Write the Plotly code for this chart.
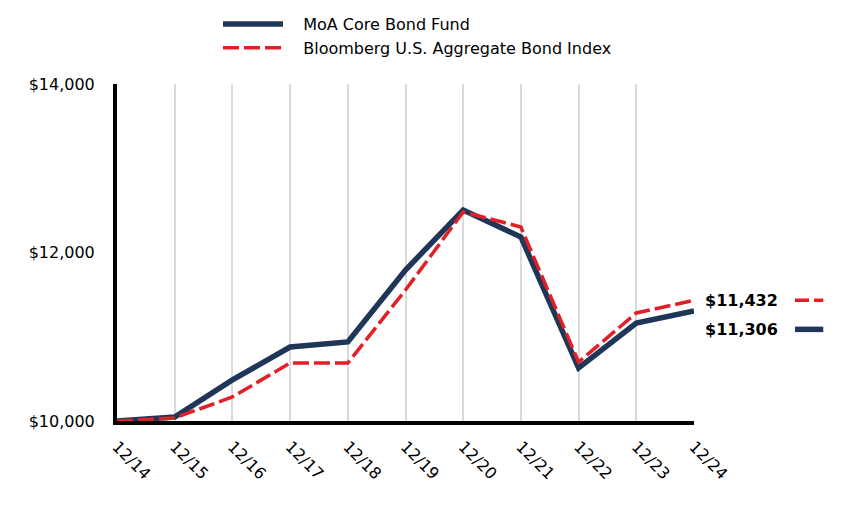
import plotly.graph_objects as go

labels = ["12/14", "12/15", "12/16", "12/17", "12/18", "12/19", "12/20", "12/21", "12/22", "12/23", "12/24"]
fund = [10000, 10047, 10487, 10878, 10938, 11792, 12504, 12184, 10629, 11163, 11306]
index = [10000, 10036, 10285, 10688, 10688, 11555, 12481, 12303, 10700, 11282, 11432]
fund_name = "MoA Core Bond Fund"
index_name = "Bloomberg U.S. Aggregate Bond Index"
yticks = [10000, 12000, 14000]

NAVY = "#1f3659"
RED = "#e21f26"
FONT = "DejaVu Sans, Verdana, sans-serif"
PAD = "\u00a0\u00a0\u00a0"

xs = list(range(len(labels)))
fig = go.Figure()
fig.add_trace(go.Scatter(x=xs, y=fund, mode="lines", name=PAD + fund_name,
                         line=dict(color=NAVY, width=5.5), cliponaxis=False))
fig.add_trace(go.Scatter(x=xs, y=index, mode="lines", name=PAD + index_name,
                         line=dict(color=RED, width=3.5, dash="16px,5px"), cliponaxis=False))

fig.add_annotation(x=1.015, xref="paper", y=index[-1], yref="y", text="<b>$" + f"{index[-1]:,}" + "</b>",
                   showarrow=False, xanchor="left", yanchor="middle",
                   font=dict(family=FONT, size=16, color="black"))
fig.add_annotation(x=1.015, xref="paper", y=index[-1], yref="y", yshift=-29,
                   text="<b>$" + f"{fund[-1]:,}" + "</b>",
                   showarrow=False, xanchor="left", yanchor="middle",
                   font=dict(family=FONT, size=16, color="black"))

# short line keys next to end labels
fig.add_shape(type="line", xref="paper", yref="y", x0=1.175, x1=1.224,
              ysizemode="pixel", yanchor=index[-1], y0=0, y1=0,
              line=dict(color=RED, width=3.5, dash="14px,5px"))
fig.add_shape(type="line", xref="paper", yref="y", x0=1.175, x1=1.224,
              ysizemode="pixel", yanchor=index[-1], y0=-29, y1=-29,
              line=dict(color=NAVY, width=5.5))

fig.update_layout(
    width=864, height=516,
    margin=dict(l=109, r=178, t=76, b=103, autoexpand=False),
    paper_bgcolor="white", plot_bgcolor="white",
    font=dict(family=FONT, size=16, color="black"),
    showlegend=True,
    legend=dict(x=0.175, y=1.228, xanchor="left", yanchor="top",
                font=dict(family=FONT, size=16, color="black"),
                itemwidth=60, tracegroupgap=0, bgcolor="rgba(0,0,0,0)"),
    xaxis=dict(range=[0, 10], tickmode="array", tickvals=xs, ticktext=labels,
               tickangle=45, showgrid=True, gridcolor="#dadada", gridwidth=2,
               showline=True, linecolor="black", linewidth=4, ticks="",
               zeroline=False, ticklabelstandoff=6),
    yaxis=dict(range=[10000, 14000], tickmode="array", tickvals=yticks,
               ticktext=["$" + f"{v:,}" for v in yticks],
               showgrid=False, showline=True, linecolor="black", linewidth=4,
               ticks="", zeroline=False, ticklabelstandoff=15),
)

fig.write_html("out.html")
